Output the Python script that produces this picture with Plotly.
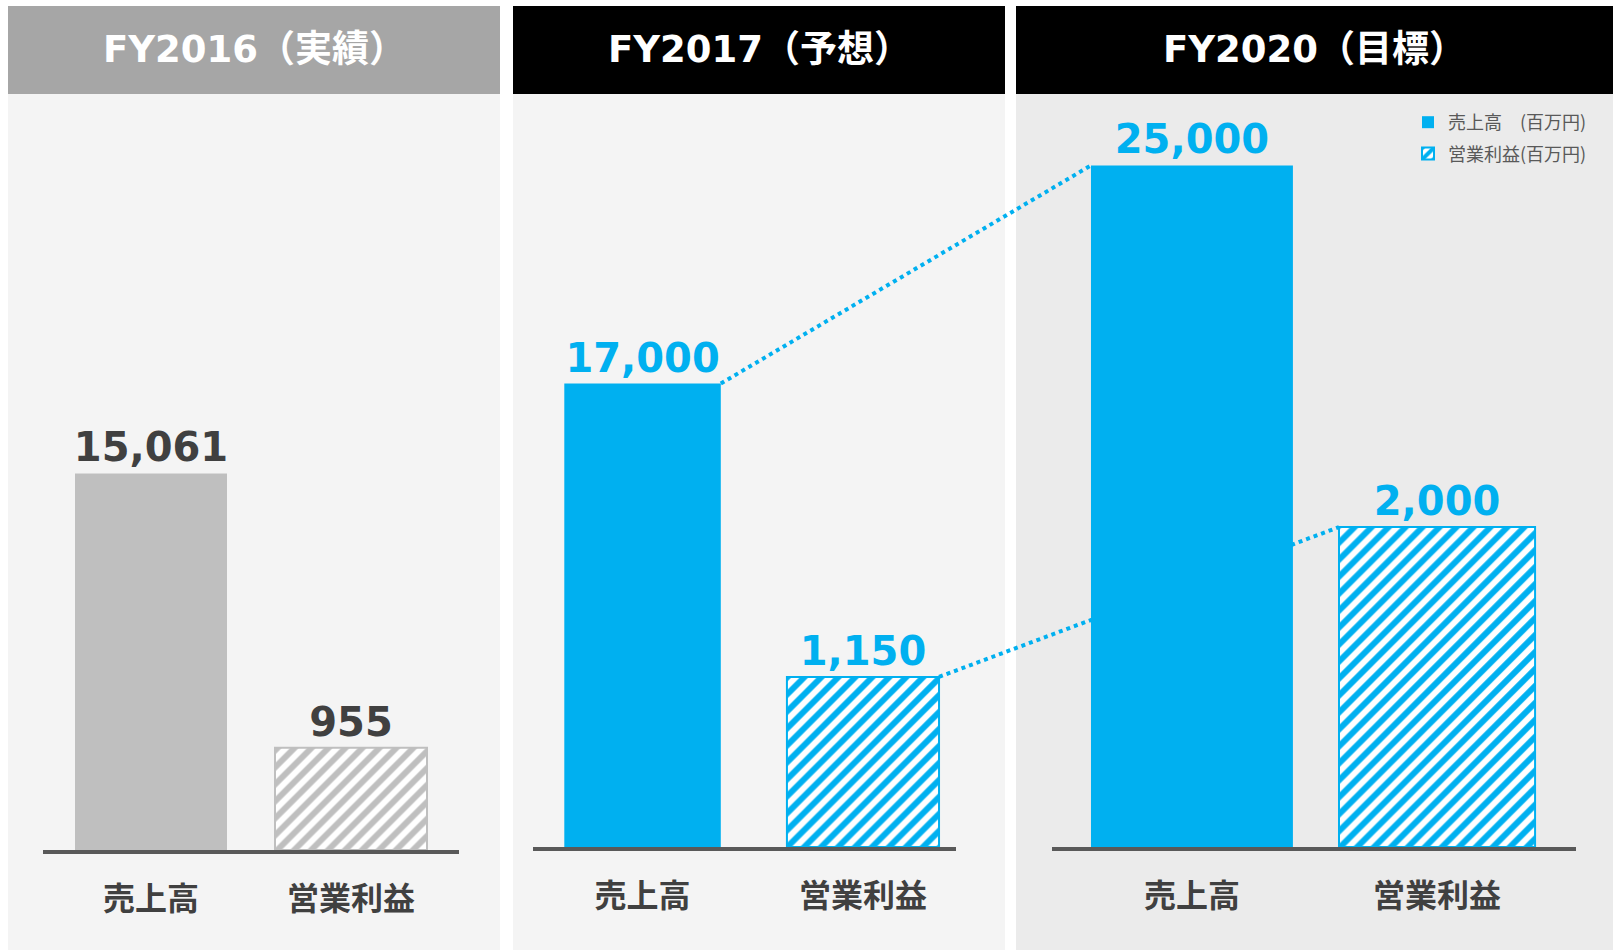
import plotly.graph_objects as go

# ── data ──────────────────────────────────────────────────────────────────────
periods = ["FY2016（実績）", "FY2017（予想）", "FY2020（目標）"]
metrics = ["売上高", "営業利益"]
sales = [15061, 17000, 25000]          # 売上高 (百万円)
op_profit = [955, 1150, 2000]          # 営業利益 (百万円)
legend_names = ["売上高　(百万円)", "営業利益(百万円)"]

# ── style ─────────────────────────────────────────────────────────────────────
W, H = 1613, 950
BLUE = "#00B0F0"
GREY_BAR = "#BFBFBF"
DARK = "#404040"
AXIS = "#595959"
CJK = "Noto Sans CJK JP"
LATIN = "DejaVu Sans, Noto Sans CJK JP"

# panel geometry in pixels (layout only, no data)
panels = [
    dict(left=8, right=500, head="#A6A6A6", body="#F4F4F4",
         ax=(43, 459), rng=(-0.54, 1.54), top=100, bottom=850,
         smax=30000, pmax=7000, widths=(0.76, 0.76),
         bar=GREY_BAR, label=DARK),
    dict(left=513, right=1005, head="#000000", body="#F4F4F4",
         ax=(533, 956), rng=(-0.497, 1.422), top=100, bottom=847,
         smax=27400, pmax=5050, widths=(0.71, 0.69),
         bar=BLUE, label=BLUE),
    dict(left=1016, right=W, head="#000000", body="#EBEBEB",
         ax=(1052, 1576), rng=(-0.571, 1.567), top=100, bottom=847,
         smax=27400, pmax=4670, widths=(0.824, 0.80),
         bar=BLUE, label=BLUE),
]


def px_x(x):
    return x / W


def px_y(y):
    return 1 - y / H


def bar_x(p, idx, side):
    """Pixel x of a bar edge (side=-1 left, +1 right) via the panel's axis."""
    l, r = p["ax"]
    r0, r1 = p["rng"]
    u = idx + side * p["widths"][idx] / 2
    return l + (u - r0) / (r1 - r0) * (r - l)


def bar_y(p, value, vmax):
    return p["bottom"] - value / vmax * (p["bottom"] - p["top"])


fig = go.Figure()
layout = dict(
    width=W, height=H, margin=dict(l=0, r=0, t=0, b=0),
    paper_bgcolor="white", plot_bgcolor="rgba(0,0,0,0)",
    barmode="overlay", showlegend=True,
    legend=dict(x=px_x(1408), y=px_y(104), xanchor="left", yanchor="top",
                bgcolor="rgba(0,0,0,0)", tracegroupgap=5,
                font=dict(family=CJK, size=18, color=AXIS)),
)
shapes, annotations = [], []

for i, p in enumerate(panels):
    xa = "x" if i == 0 else f"x{i + 1}"
    ys = "y" if i == 0 else f"y{2 * i + 1}"
    yp = f"y{2 * i + 2}"
    last = i == len(panels) - 1

    layout[f"xaxis{'' if i == 0 else i + 1}"] = dict(
        domain=[px_x(p["ax"][0]), px_x(p["ax"][1])], anchor=ys,
        type="category", categoryorder="array", categoryarray=metrics,
        range=list(p["rng"]), showgrid=False, zeroline=False,
        showline=True, linecolor=AXIS, linewidth=4,
        ticks="outside", ticklen=18, tickcolor="rgba(0,0,0,0)",
        tickfont=dict(family=CJK, size=32, color=DARK, weight="bold"),
        fixedrange=True,
    )
    dom = [px_y(p["bottom"]), px_y(p["top"])]
    layout[f"yaxis{'' if i == 0 else 2 * i + 1}"] = dict(
        domain=dom, anchor=xa, range=[0, p["smax"]], visible=False,
        fixedrange=True)
    layout[f"yaxis{2 * i + 2}"] = dict(
        overlaying=ys, anchor=xa, range=[0, p["pmax"]], visible=False,
        fixedrange=True)

    fig.add_trace(go.Bar(
        x=[metrics[0]], y=[sales[i]], xaxis=xa, yaxis=ys,
        width=[p["widths"][0]], marker=dict(color=p["bar"], line_width=0),
        text=[f"{sales[i]:,}"], textposition="outside", cliponaxis=False,
        constraintext="none",
        textfont=dict(family=LATIN, size=40, color=p["label"], weight="bold"),
        name=legend_names[0], legendgroup="sales", showlegend=last,
        hoverinfo="skip",
    ))
    fig.add_trace(go.Bar(
        x=[metrics[1]], y=[op_profit[i]], xaxis=xa, yaxis=yp,
        width=[p["widths"][1]],
        marker=dict(color="white", line=dict(color=p["bar"], width=2),
                    pattern=dict(shape="/", fgcolor=p["bar"], bgcolor="white",
                                 fgopacity=1, fillmode="replace",
                                 size=12, solidity=0.5)),
        text=[f"{op_profit[i]:,}"], textposition="outside", cliponaxis=False,
        constraintext="none",
        textfont=dict(family=LATIN, size=40, color=p["label"], weight="bold"),
        name=legend_names[1], legendgroup="profit", showlegend=last,
        hoverinfo="skip",
    ))

    # panel body + header band
    shapes.append(dict(type="rect", xref="paper", yref="paper", layer="below",
                       x0=px_x(p["left"]), x1=px_x(p["right"]),
                       y0=0, y1=px_y(94), fillcolor=p["body"], line_width=0))
    shapes.append(dict(type="rect", xref="paper", yref="paper", layer="below",
                       x0=px_x(p["left"]), x1=px_x(p["right"]),
                       y0=px_y(94), y1=px_y(6), fillcolor=p["head"],
                       line_width=0))
    annotations.append(dict(
        text=periods[i], xref="paper", yref="paper", showarrow=False,
        x=px_x((p["left"] + p["right"]) / 2), y=px_y(50),
        xanchor="center", yanchor="middle",
        font=dict(family=LATIN, size=37, color="white", weight="bold")))

# dotted connectors FY2017 → FY2020, end points taken from the bar values
p2, p3 = panels[1], panels[2]
for idx, vals, key in ((0, sales, "smax"), (1, op_profit, "pmax")):
    shapes.append(dict(
        type="line", xref="paper", yref="paper", layer="below",
        x0=px_x(bar_x(p2, idx, +1)), y0=px_y(bar_y(p2, vals[1], p2[key])),
        x1=px_x(bar_x(p3, idx, -1)), y1=px_y(bar_y(p3, vals[2], p3[key])),
        line=dict(color=BLUE, width=4, dash="dot")))

layout["shapes"] = shapes
layout["annotations"] = annotations
fig.update_layout(**layout)

# figure is laid out in page pixels, so drop the default body margin
fig.write_html("out.html", config={"displayModeBar": False},
               post_script="document.body.style.margin='0';"
                           "document.body.style.overflow='hidden';")
